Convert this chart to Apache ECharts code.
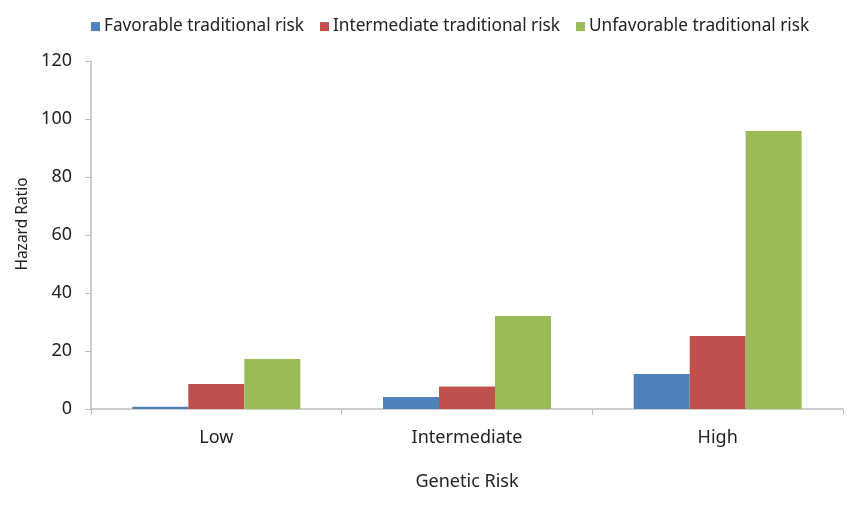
<!DOCTYPE html>
<html>
<head>
<meta charset="utf-8">
<script src="https://cdn.jsdelivr.net/npm/echarts@6/dist/echarts.min.js"></script>
<style>html,body{margin:0;padding:0;background:#fff}#c{width:867px;height:514px}</style>
</head>
<body>
<div id="c"></div>
<script>
const categories = ['Low', 'Intermediate', 'High'];
const seriesNames = ['Favorable traditional risk', 'Intermediate traditional risk', 'Unfavorable traditional risk'];
const favorable = [0.8, 4.1, 12.1];
const intermediate = [8.6, 7.8, 25.2];
const unfavorable = [17.2, 32.1, 95.9];
const yTicks = [0, 20, 40, 60, 80, 100, 120];
const colors = ['#4F81BD', '#C0504D', '#9BBB59'];
const font = '"Noto Sans", "Noto Sans CJK KR", sans-serif';

const chart = echarts.init(document.getElementById('c'));
const values = [favorable, intermediate, unfavorable];
chart.setOption({
  animation: false,
  textStyle: {fontFamily: font},
  legend: {
    top: 13, left: 86, itemWidth: 9, itemHeight: 9, itemGap: 16,
    icon: 'rect',
    textStyle: {fontSize: 17.2, color: '#222', fontFamily: font, padding: [0, 0, 0, -1]},
    data: seriesNames
  },
  grid: {left: 91, right: 24, top: 61, bottom: 105, containLabel: false},
  xAxis: {
    type: 'category', data: categories,
    name: 'Genetic Risk', nameLocation: 'middle', nameGap: 64,
    nameTextStyle: {fontSize: 18, color: '#222', fontFamily: font},
    axisLine: {lineStyle: {color: '#BDBDBD', width: 1.5}},
    axisTick: {show: true, length: 6, lineStyle: {color: '#BDBDBD'}},
    axisLabel: {fontSize: 18, color: '#222', margin: 20, fontFamily: font}
  },
  yAxis: {
    type: 'value', min: yTicks[0], max: yTicks[yTicks.length - 1], interval: 20,
    name: 'Hazard Ratio', nameLocation: 'middle', nameGap: 57,
    nameTextStyle: {fontSize: 15.5, color: '#222', fontFamily: font, padding: [0, 0, 0, 22]},
    axisLine: {show: true, lineStyle: {color: '#BDBDBD', width: 1.5}},
    axisTick: {show: true, length: 6, lineStyle: {color: '#BDBDBD'}},
    splitLine: {show: false},
    axisLabel: {fontSize: 18, color: '#222', margin: 19, fontFamily: font}
  },
  series: seriesNames.map((n, i) => ({
    name: n, type: 'bar', data: values[i],
    barGap: '0%', barCategoryGap: '33%',
    itemStyle: {color: colors[i]}
  }))
});
</script>
</body>
</html>
